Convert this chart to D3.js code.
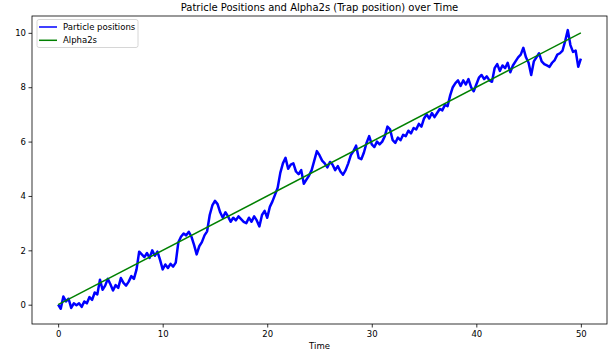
<!DOCTYPE html>
<html><head><meta charset="utf-8">
<script src="https://cdn.jsdelivr.net/npm/d3@7/dist/d3.min.js"></script>
<style>body{margin:0;background:#fff}svg{display:block}text{font-family:"DejaVu Sans",sans-serif}</style>
</head><body>
<script>
const title = "Patricle Positions and Alpha2s (Trap position) over Time";
const xLabel = "Time";
const seriesNames = ["Particle positions", "Alpha2s"];
const xTicks = [0, 10, 20, 30, 40, 50];
const yTicks = [0, 2, 4, 6, 8, 10];
const timeStep = 0.25;
const positions = [
 0.00,-0.15,0.30,0.12, 0.22,-0.12,0.05,-0.02, 0.05,-0.08,0.12,0.05, 0.28,0.18,0.45,0.38,
 0.92,0.55,0.70,0.95, 0.75,0.52,0.72,0.62, 0.98,0.80,0.70,0.85, 1.05,0.95,1.30,1.95,
 1.85,1.75,1.90,1.72, 2.00,1.80,1.95,1.65, 1.30,1.48,1.35,1.50, 1.40,1.55,2.30,2.50,
 2.62,2.55,2.68,2.50, 2.20,1.85,2.15,2.30, 2.55,2.70,3.30,3.65, 3.82,3.70,3.40,3.20,
 3.40,3.25,3.05,3.20, 3.10,3.25,3.15,3.05, 3.00,3.20,3.05,3.25, 3.10,2.88,3.30,3.45,
 3.20,3.60,3.80,4.05, 4.30,4.85,5.20,5.40, 5.00,5.15,5.20,4.90, 4.80,4.95,4.45,4.60,
 4.75,4.95,5.30,5.65, 5.50,5.30,5.20,5.05, 5.25,5.15,4.95,5.10, 4.90,4.78,4.95,5.20,
 5.50,5.65,5.85,5.40, 5.35,5.60,5.95,6.20, 5.90,5.80,6.00,5.90, 6.00,6.20,6.55,6.45,
 6.05,5.95,6.15,6.05, 6.25,6.20,6.40,6.30, 6.50,6.45,6.65,6.55, 6.85,7.00,6.85,7.05,
 6.90,7.05,7.20,7.15, 7.35,7.30,7.70,8.00, 8.15,8.25,8.05,8.25, 8.10,8.30,8.00,7.85,
 8.10,8.35,8.45,8.30, 8.40,8.25,8.20,8.70, 8.85,8.60,8.80,8.70, 8.90,8.55,8.80,8.95,
 9.10,9.20,9.45,9.10, 8.90,8.45,8.95,9.10, 9.25,8.95,8.85,8.80, 8.75,8.90,9.00,9.20,
 9.25,9.35,9.70,10.10, 9.55,9.30,9.35,8.75, 9.05
];
const alphaTimes = [0, 50];
const alpha2s = [0, 10];

const W = 615, H = 356;
const m = {l: 32, r: 8, t: 16, b: 32};
const svg = d3.select("body").append("svg").attr("width", W).attr("height", H);
const x = d3.scaleLinear().domain([-2.5, 52.5]).range([m.l, W - m.r]);
const y = d3.scaleLinear().domain([-0.71, 10.62]).range([H - m.b, m.t]);

const pData = positions.map((v, i) => [i * timeStep, v]);
const aData = alphaTimes.map((t, i) => [t, alpha2s[i]]);
const line = d3.line().x(d => x(d[0])).y(d => y(d[1]));

svg.append("path").datum(pData).attr("d", line).attr("fill", "none")
  .attr("stroke", "#0000ff").attr("stroke-width", 2.5).attr("stroke-linejoin", "round");
svg.append("path").datum(aData).attr("d", line).attr("fill", "none")
  .attr("stroke", "#008000").attr("stroke-width", 1.5);

const xa = svg.append("g").attr("transform", `translate(0,${H - m.b})`)
  .call(d3.axisBottom(x).tickValues(xTicks).tickSize(3.5).tickPadding(3));
const ya = svg.append("g").attr("transform", `translate(${m.l},0)`)
  .call(d3.axisLeft(y).tickValues(yTicks).tickSize(3.5).tickPadding(2.5));
[xa, ya].forEach(g => {
  g.select(".domain").remove();
  g.selectAll("text").attr("font-size", 8.5).attr("fill", "#000").style("font-family", "DejaVu Sans");
  g.selectAll("line").attr("stroke", "#000").attr("stroke-width", 0.8);
});
svg.append("rect").attr("x", m.l).attr("y", m.t).attr("width", W - m.l - m.r)
  .attr("height", H - m.t - m.b).attr("fill", "none").attr("stroke", "#000").attr("stroke-width", 0.8);

svg.append("text").attr("x", (m.l + W - m.r) / 2).attr("y", 11).attr("text-anchor", "middle")
  .attr("font-size", 10).text(title);
svg.append("text").attr("x", (m.l + W - m.r) / 2).attr("y", 349).attr("text-anchor", "middle")
  .attr("font-size", 8.5).text(xLabel);

const lg = svg.append("g").attr("transform", `translate(37,19.5)`);
lg.append("rect").attr("width", 101).attr("height", 28).attr("rx", 2).attr("fill", "#fff")
  .attr("fill-opacity", 0.8).attr("stroke", "#ccc").attr("stroke-width", 0.8);
const colors = ["#0000ff", "#008000"];
seriesNames.forEach((n, i) => {
  const yy = 7.5 + i * 13.3;
  lg.append("line").attr("x1", 2).attr("x2", 20).attr("y1", yy).attr("y2", yy)
    .attr("stroke", colors[i]).attr("stroke-width", 1.5);
  lg.append("text").attr("x", 26).attr("y", yy + 3).attr("font-size", 8.5).text(n);
});
</script>
</body></html>
